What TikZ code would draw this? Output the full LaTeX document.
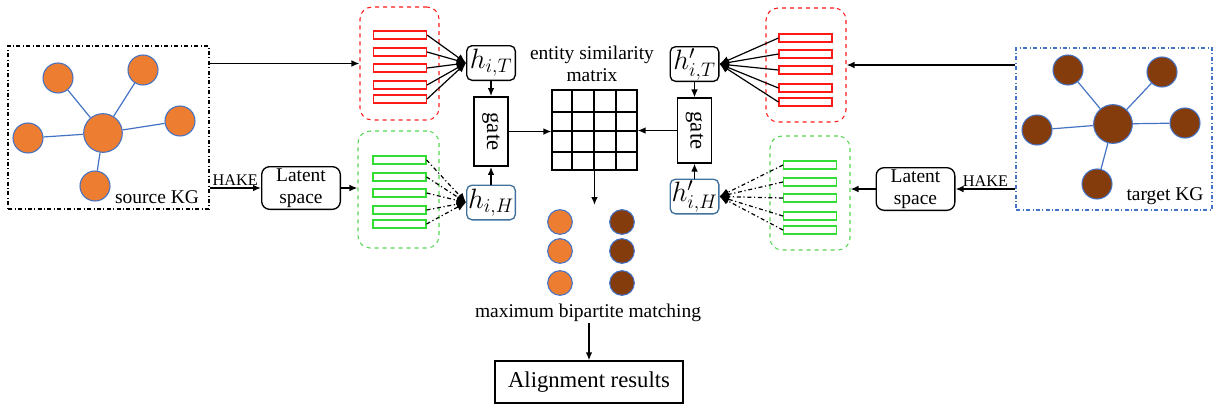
\RequirePackage{fix-cm}
\documentclass[tikz,border=0pt]{standalone}
\usepackage{fontspec}
\setmainfont{Liberation Serif}
\usetikzlibrary{arrows.meta,fit}
\definecolor{orangeN}{HTML}{ED7D31}
\definecolor{brownN}{HTML}{843C0C}
\definecolor{edgeB}{HTML}{4472C4}
\definecolor{boxB}{HTML}{41719C}
\definecolor{redB}{HTML}{FF1A1A}
\definecolor{greenB}{HTML}{33DD33}
\definecolor{greenD}{HTML}{55D655}
\begin{document}
\begin{tikzpicture}[x=0.75pt,y=-0.75pt,
  txt/.style={font=\fontsize{14.6}{16.5}\selectfont, align=center, inner sep=1pt},
  kgbox/.style={dash dot, line width=0.9pt, inner sep=0},
  onode/.style={circle, draw=edgeB, line width=0.8pt, fill=orangeN, inner sep=0, minimum size=22.5pt},
  bnode/.style={onode, fill=brownN},
  bigo/.style={onode, minimum size=29pt},
  bigb/.style={bnode, minimum size=29pt},
  kedge/.style={edgeB, line width=0.9pt},
  arr/.style={-{Latex[length=6pt,width=5pt]}, line width=1.1pt},
  conv/.style={-{Latex[length=7pt,width=6pt]}, line width=0.9pt},
  redbar/.style={draw=redB, line width=1.1pt, inner sep=0, minimum width=39.5pt, minimum height=6.3pt},
  greenbar/.style={redbar, draw=greenB},
  redgrp/.style={draw=redB, dashed, rounded corners=9pt, line width=0.8pt, inner sep=0},
  greengrp/.style={redgrp, draw=greenD},
  hbox/.style={draw, rounded corners=4pt, line width=1pt, inner sep=0, minimum width=36.5pt, minimum height=26pt, font=\fontsize{21}{23}\selectfont},
  gatebox/.style={draw, line width=1.1pt, inner sep=0, minimum width=25.5pt, minimum height=52pt},
  gatetxt/.style={rotate=-90, font=\fontsize{17}{18}\selectfont, inner sep=0},
  latbox/.style={draw, rounded corners=6pt, line width=1pt, inner sep=0, minimum width=59pt, minimum height=32pt, txt},
  grid/.style={line width=0.9pt}
]
\useasboundingbox (0,0) rectangle (1214,405);

% ---------- source KG ----------
\node[kgbox, draw=black, fit={(8,46)(209,209)}] (src) {};
\node[bigo] (s0) at (103,133) {};
\node[onode] (s1) at (58,78) {};
\node[onode] (s2) at (143,70) {};
\node[onode] (s3) at (180,121) {};
\node[onode] (s4) at (28,138) {};
\node[onode] (s5) at (95,186) {};
\foreach \i in {1,...,5} \draw[kedge] (s0) -- (s\i);
\node[txt] (srcl) at (157,197) {source KG};

% ---------- target KG ----------
\node[kgbox, draw=edgeB, fit={(1016,48)(1212,210)}] (tgt) {};
\node[bigb] (t0) at (1113,124) {};
\node[bnode] (t1) at (1068,70) {};
\node[bnode] (t2) at (1162,72) {};
\node[bnode] (t3) at (1185,123) {};
\node[bnode] (t4) at (1037,130) {};
\node[bnode] (t5) at (1097,184) {};
\foreach \i in {1,...,5} \draw[kedge] (t0) -- (t\i);
\node[txt] (tgtl) at (1165,196) {target KG};

% ---------- groups ----------
\node[redgrp, fit={(360,7)(439,120)}] (redL) {};
\node[greengrp, fit={(358,131)(439,248)}] (greenL) {};
\node[redgrp, fit={(766,8)(846,122)}] (redR) {};
\node[greengrp, fit={(770,136)(850,250)}] (greenR) {};

\foreach \y [count=\i] in {35,52,68,85,99} \node[redbar] (rl\i) at (400,\y) {};
\foreach \y [count=\i] in {160,177,193,210,224} \node[greenbar] (gl\i) at (399.5,\y) {};
\foreach \y [count=\i] in {38,54,70,88,102} \node[redbar] (rr\i) at (805.5,\y) {};
\foreach \y [count=\i] in {165,182,198,216,230} \node[greenbar] (gr\i) at (810,\y) {};

% ---------- latent space ----------
\node[latbox] (latL) at (301,188) {Latent\\space};
\node[latbox] (latR) at (915.5,189) {Latent\\space};

% ---------- h boxes and gates ----------
\node[hbox] (hT) at (491,63) {$h_{i,T}$};
\node[hbox, draw=boxB] (hH) at (491,202.5) {$h_{i,H}$};
\node[hbox] (hpT) at (694.5,64) {$h'_{i,T}$};
\node[hbox, draw=boxB] (hpH) at (694.5,196.5) {$h'_{i,H}$};

\node[gatebox] (gL) at (491,131.5) {};
\node[gatetxt] at (gL.center) {gate};
\node[gatebox, minimum height=48.5pt] (gR) at (694.5,130.5) {};
\node[gatetxt] at (gR.center) {gate};

% ---------- similarity matrix ----------
\node[draw, grid, inner sep=0, fit={(552,90)(637,170)}] (mat) {};
\foreach \x in {572,594,616} \draw[grid] (\x,90) -- (\x,170);
\foreach \y in {112,131,152} \draw[grid] (552,\y) -- (637,\y);
\node[txt] (matl) at (592,64) {entity similarity\\matrix};

% ---------- bipartite matching ----------
\foreach \y [count=\i] in {222,251,283} {
  \node[onode, minimum size=18.5pt] (bo\i) at (560,\y) {};
  \node[bnode, minimum size=18.5pt] (bb\i) at (622,\y) {};
}
\node[txt] (mbm) at (588,313) {maximum bipartite matching};
\node[draw, line width=1pt, inner sep=0, fit={(495,361)(683,403)}] (align) {};
\node[font=\fontsize{17}{19}\selectfont] (alignt) at (align.center) {Alignment results};
\coordinate (matEnd) at (594.5,205);

% ---------- connectors ----------
\draw[arr] (src.east |- redL.west) -- (redL.west);
\draw[arr] (src.east |- latL.west) -- node[above, txt, font=\fontsize{12.2}{13}\selectfont] {HAKE} (latL.west);
\draw[arr] (latL.east) -- (latL.east -| greenL.west);
\draw[arr] (tgt.west |- redR.east) -- (redR.east);
\draw[arr] (tgt.west |- latR.east) -- node[above, txt, font=\fontsize{12.2}{13}\selectfont] {HAKE} (latR.east);
\draw[arr] (latR.west) -- (latR.west -| greenR.east);

\foreach \i in {1,...,5} {
  \draw[conv] (rl\i.east) -- (hT.west);
  \draw[conv, dash dot] (gl\i.east) -- (hH.west);
  \draw[conv] (rr\i.west) -- (hpT.east);
  \draw[conv, dash dot] (gr\i.west) -- (hpH.east);
}

\draw[arr] (hT.south) -- (gL.north);
\draw[arr] (hH.north) -- (gL.south);
\draw[arr] (hpT.south) -- (gR.north);
\draw[arr] (hpH.north) -- (gR.south);
\draw[arr] (gL.east) -- (gL.east -| mat.west);
\draw[arr] (gR.west) -- (gR.west -| mat.east);
\draw[arr] (mat.south) -- (matEnd);
\draw[arr] (mbm.south -| align.north) -- (align.north);
\end{tikzpicture}
\end{document}
